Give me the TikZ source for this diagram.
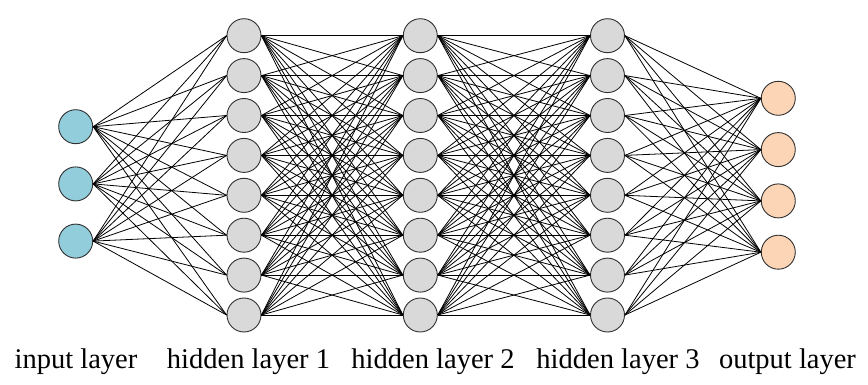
\documentclass[tikz,border=0pt]{standalone}
\usepackage{fontspec}
\setmainfont{Liberation Serif}
\newfontfamily\labfont{Liberation Serif}
\definecolor{inblue}{HTML}{92CDDC}
\definecolor{hidgray}{HTML}{D9D9D9}
\definecolor{outpeach}{HTML}{FBD5B5}
\definecolor{rimc}{HTML}{303030}
\begin{document}
\begin{tikzpicture}[x=1pt,y=-1pt,
  neuron/.style={circle,draw=rimc,line width=0.9pt,minimum size=34pt,inner sep=0pt},
  inneuron/.style={neuron,fill=inblue},
  hidneuron/.style={neuron,fill=hidgray},
  outneuron/.style={neuron,fill=outpeach},
  link/.style={black,line width=0.8pt},
  lab/.style={anchor=base,font=\labfont\fontsize{28.5}{30}\selectfont,inner sep=0pt}]
\useasboundingbox (0,0) rectangle (868,385);
% nodes
\foreach \i [evaluate=\i as \yy using {126.7+57.2*(\i-1)}] in {1,2,3}
  \node[inneuron] (i\i) at (75.7,\yy) {};
\foreach \i [evaluate=\i as \yy using {35.7+39.9*(\i-1)}] in {1,...,8} {
  \node[hidneuron] (a\i) at (244,\yy) {};
  \node[hidneuron] (b\i) at (420.3,\yy) {};
  \node[hidneuron] (c\i) at (607.5,\yy) {};
}
\foreach \i [evaluate=\i as \yy using {98.3+51.3*(\i-1)}] in {1,2,3,4}
  \node[outneuron] (o\i) at (778.3,\yy) {};
% connections
\foreach \s in {1,2,3}
  \foreach \t in {1,...,8}
    \draw[link] (i\s.east) -- (a\t.west);
\foreach \s in {1,...,8}
  \foreach \t in {1,...,8} {
    \draw[link] (a\s.east) -- (b\t.west);
    \draw[link] (b\s.east) -- (c\t.west);
  }
\foreach \s in {1,...,8}
  \foreach \t in {1,2,3,4}
    \draw[link] (c\s.east) -- (o\t.west);
% labels
\node[lab] (l1) at (76,368) {input layer};
\node[lab] (l2) at (248.5,368) {hidden layer 1};
\node[lab] (l3) at (433,368) {hidden layer 2};
\node[lab] (l4) at (618,368) {hidden layer 3};
\node[lab] (l5) at (787.5,368) {output layer};
\end{tikzpicture}
\end{document}
